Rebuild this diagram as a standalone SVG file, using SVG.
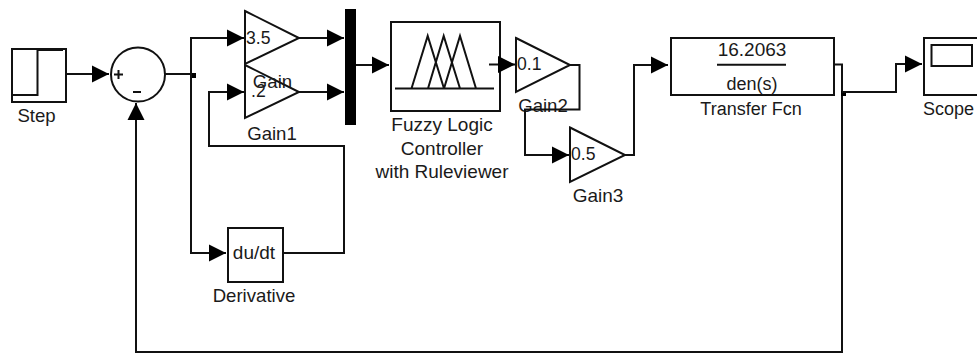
<svg xmlns="http://www.w3.org/2000/svg" width="977" height="355" viewBox="0 0 977 355">
<style>
text{font-family:"Liberation Sans",Arial,sans-serif;font-size:18.600px;fill:#1a1a1a;text-anchor:middle}
.s{text-anchor:start;font-size:17.600px}
.m{font-size:19px}
.n{font-size:18px}
.b{fill:#fff;stroke:#111;stroke-width:2}
.l{fill:none;stroke:#111;stroke-width:2}
.c{fill:none;stroke:#111;stroke-width:2;marker-end:url(#a)}
</style>
<defs><marker id="a" markerUnits="userSpaceOnUse" markerWidth="18" markerHeight="18" refX="17" refY="9" orient="auto"><path d="M0 0.500L17 9L0 17.500Z" fill="#000"/></marker></defs>
<rect width="977" height="355" fill="#fff"/>
<g id="step"><rect class="b" x="12" y="49" width="54" height="53"/><path class="l" d="M11 95H37.500V50H63"/><text x="36.500" y="122">Step</text></g>
<g id="sum"><circle class="b" cx="138" cy="74.500" r="27"/><path class="l" d="M114 74.500H123M118.500 70V79M133 92H141"/></g>
<g id="gain"><path class="b" d="M245 11L299 38L245 64Z"/><text class="s" x="246" y="44">3.5</text></g>
<g id="gain1"><path class="b" d="M245 65L299 92L245 118Z"/><text class="s" x="251" y="97">.2</text><text x="272" y="140">Gain1</text></g>
<text x="272.500" y="88">Gain</text>
<rect id="mux" x="345" y="9" width="11" height="116" fill="#000"/>
<g id="fuzzy"><rect class="b" x="391" y="22" width="109" height="89"/><path class="l" d="M395 88.500H494M411.500 88.500L427.700 36L444 88.500M428 88.500L443.700 36L460 88.500M444 88.500L460 36L476 88.500"/><text class="m" x="442" y="131">Fuzzy Logic</text><text class="m" x="442" y="155">Controller</text><text class="m" x="442" y="178">with Ruleviewer</text></g>
<g id="gain2"><path class="b" d="M516 38L570 65L516 92Z"/><text class="s" x="517" y="70">0.1</text><text x="543" y="112">Gain2</text></g>
<g id="gain3"><path class="b" d="M570 127.500L625 155L570 182Z"/><text class="s" x="571" y="160">0.5</text><text class="m" x="598" y="202">Gain3</text></g>
<g id="derivative"><rect class="b" x="228" y="228" width="55" height="54"/><text class="m" x="254" y="259">du/dt</text><text x="254" y="302">Derivative</text></g>
<g id="transfer"><rect class="b" x="671" y="38" width="163" height="57"/><text class="m" x="752" y="56">16.2063</text><path class="l" d="M717 64.700H786"/><text class="n" x="752" y="90">den(s)</text><text class="n" x="751" y="115">Transfer Fcn</text></g>
<g id="scope"><rect class="b" x="924" y="38" width="56" height="57"/><rect class="b" x="931.500" y="45" width="40.500" height="21"/><text class="n" style="text-anchor:start" x="923" y="115">Scope</text></g>
<g id="connectors">
<path class="c" d="M66 74H109"/>
<path class="l" d="M165 74H193"/>
<rect x="191" y="73" width="5" height="5" fill="#000"/>
<path class="c" d="M191 74V38H244"/>
<path class="c" d="M191 74V253H226"/>
<path class="c" d="M299 38H344"/>
<path class="c" d="M299 92H344"/>
<path class="c" d="M283 253H344V146H209V92H244"/>
<path class="c" d="M356 65H389"/>
<path class="c" d="M489 64.500H515"/>
<path class="c" d="M570 65H579.500V109.500H525V155H569"/>
<path class="c" d="M625 155H634V65H668"/>
<path class="c" d="M833 64.500H842V352H136V103"/>
<rect x="841" y="91" width="5" height="5" fill="#000"/>
<path class="c" d="M842 92H896V64H922"/>
</g>
</svg>
